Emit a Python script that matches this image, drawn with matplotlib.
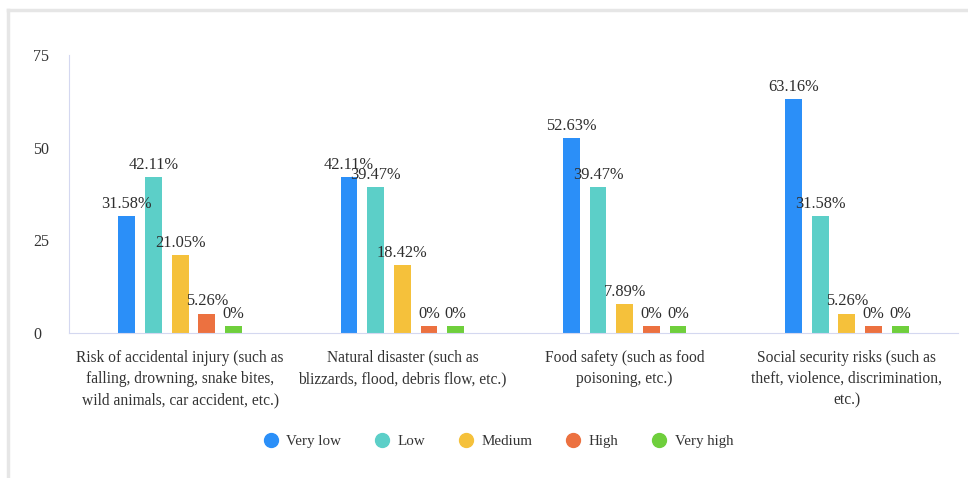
import numpy as np
import matplotlib.pyplot as plt
from matplotlib.lines import Line2D

plt.rcParams['font.family'] = ['Liberation Serif', 'DejaVu Serif']

categories = [
    "Risk of accidental injury (such as\nfalling, drowning, snake bites,\nwild animals, car accident, etc.)",
    "Natural disaster (such as\nblizzards, flood, debris flow, etc.)",
    "Food safety (such as food\npoisoning, etc.)",
    "Social security risks (such as\ntheft, violence, discrimination,\netc.)",
]
levels = ["Very low", "Low", "Medium", "High", "Very high"]
very_low = [31.58, 42.11, 52.63, 63.16]
low = [42.11, 39.47, 39.47, 31.58]
medium = [21.05, 18.42, 7.89, 5.26]
high = [5.26, 0, 0, 0]
very_high = [0, 0, 0, 0]
series = [very_low, low, medium, high, very_high]
colors = ["#2b8ff8", "#5ccfc8", "#f5c13b", "#ec7140", "#6fcf3c"]

fig = plt.figure(figsize=(9.68, 4.78), dpi=100)
ax = fig.add_axes([69 / 968, 1 - 333 / 478, 889 / 968, 278 / 478])

# light frame around the panel (top and left edges only)
fig.add_artist(Line2D([8 / 968, 1], [1 - 10 / 478] * 2, color="#e6e6e6", lw=2.5))
fig.add_artist(Line2D([8 / 968] * 2, [0, 1 - 10 / 478], color="#e6e6e6", lw=2.5))

x = np.arange(len(categories))
step = 0.12
width = 0.076
min_h = 1.8  # keep zero bars visible
for i, (vals, c) in enumerate(zip(series, colors)):
    pos = x + (i - 2) * step
    shown = [max(v, min_h) for v in vals]
    ax.bar(pos, shown, width=width, color=c)
    for p, v, s in zip(pos, vals, shown):
        ax.annotate(f"{v:g}%", (p, s), xytext=(0, 3), textcoords="offset points",
                    ha="center", va="bottom", fontsize=11.8, color="#2e2e2e")

ax.set_xlim(-0.5, 3.5)
ax.set_ylim(0, 75)
ax.set_yticks([0, 25, 50, 75])
ax.set_xticks(x)
ax.set_xticklabels(categories, fontsize=11.2, color="#333333", linespacing=1.45)
ax.tick_params(axis="y", length=0, pad=26, labelsize=11.5, labelcolor="#333333")
for lbl in ax.get_yticklabels():
    lbl.set_horizontalalignment("left")
ax.tick_params(axis="x", length=0, pad=12)
for s in ["top", "right"]:
    ax.spines[s].set_visible(False)
ax.spines["left"].set_color("#d4d8f0")
ax.spines["bottom"].set_color("#d4d8f0")

handles = [Line2D([], [], marker="o", ls="", markersize=10, color=c) for c in colors]
fig.legend(handles, levels, loc="center", bbox_to_anchor=(0.514, 1 - 441 / 478),
           ncol=5, frameon=False, fontsize=10.8, handletextpad=0.45, columnspacing=2.1,
           handlelength=1.2, labelcolor="#333333")

fig.savefig("out.png", dpi=100)
